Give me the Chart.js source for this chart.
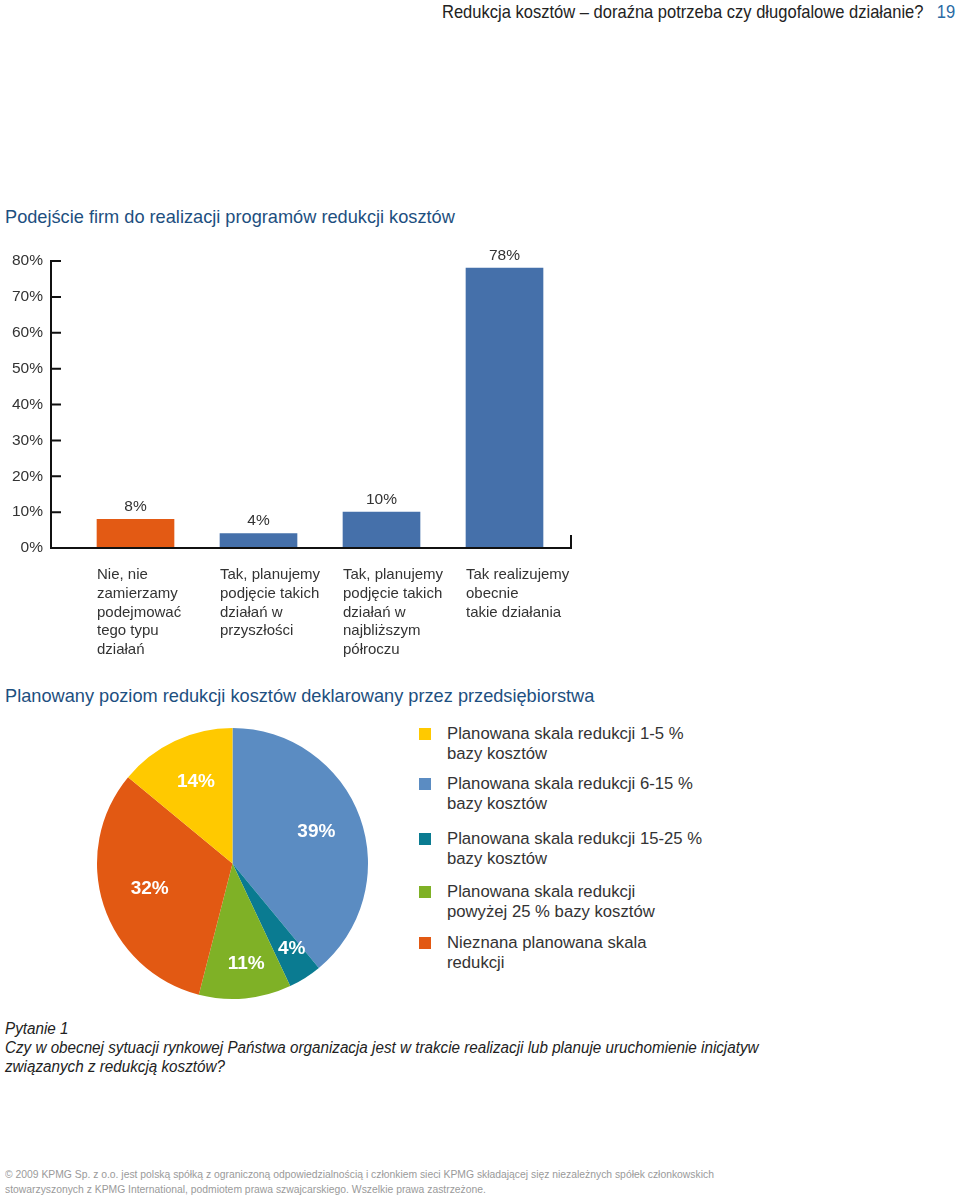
<!DOCTYPE html>
<html><head><meta charset="utf-8">
<script src="https://cdn.jsdelivr.net/npm/chart.js@4"></script>
<style>
html,body{margin:0;padding:0;background:#fff;}
body{width:960px;height:1197px;position:relative;overflow:hidden;font-family:"Liberation Sans",Arial,sans-serif;color:#333;}
.abs{position:absolute;white-space:nowrap;}
#hdr{right:37px;top:1px;font-size:19px;color:#222;transform:scaleX(0.87);transform-origin:right top;}
#pg{right:5px;top:1px;font-size:19px;color:#2a6aa4;transform:scaleX(0.87);transform-origin:right top;}
.ttl{left:5px;font-size:18.2px;color:#1d4f80;}
#barWrap{position:absolute;left:0;top:230px;width:600px;height:438px;}
#pieWrap{position:absolute;left:92px;top:723px;width:281px;height:281px;}
#legend{position:absolute;left:419px;top:724px;font-size:16.7px;color:#333;line-height:20px;}
.li{position:relative;padding-left:28px;white-space:nowrap;}
.sw{position:absolute;left:0;top:4px;width:12px;height:12px;}
#q{left:5px;top:1019px;font-style:italic;font-size:16px;line-height:19px;color:#222;transform:scaleX(0.951);transform-origin:left top;}
#foot{left:5px;top:1167px;font-size:11.5px;line-height:14.5px;color:#9a9a9a;transform:scaleX(0.9);transform-origin:left top;}
</style></head>
<body>
<div class="abs" id="hdr">Redukcja kosztów – doraźna potrzeba czy długofalowe działanie?</div>
<div class="abs" id="pg">19</div>
<div class="abs ttl" style="top:207px">Podejście firm do realizacji programów redukcji kosztów</div>
<div id="barWrap"><canvas id="bar"></canvas></div>
<div class="abs ttl" style="top:686px">Planowany poziom redukcji kosztów deklarowany przez przedsiębiorstwa</div>
<div id="pieWrap"><canvas id="pie"></canvas></div>
<div id="legend"></div>
<div class="abs" id="q">Pytanie 1<br>Czy w obecnej sytuacji rynkowej Państwa organizacja jest w trakcie realizacji lub planuje uruchomienie inicjatyw<br>związanych z redukcją kosztów?</div>
<div class="abs" id="foot">© 2009 KPMG Sp. z o.o. jest polską spółką z ograniczoną odpowiedzialnością i członkiem sieci KPMG składającej sięz niezależnych spółek członkowskich<br>stowarzyszonych z KPMG International, podmiotem prawa szwajcarskiego.  Wszelkie prawa zastrzeżone.</div>
<script>
// ---- data ----
const barCategories = [
  ["Nie, nie","zamierzamy","podejmować","tego typu","działań"],
  ["Tak, planujemy","podjęcie takich","działań w","przyszłości"],
  ["Tak, planujemy","podjęcie takich","działań w","najbliższym","półroczu"],
  ["Tak realizujemy","obecnie","takie działania"]
];
const barValues = [8, 4, 10, 78];
const barColors = ["#e35a14", "#4570aa", "#4570aa", "#4570aa"];
const yTicks = [0, 10, 20, 30, 40, 50, 60, 70, 80];

const pieLabels = [
  "Planowana skala redukcji 6-15 % bazy kosztów",
  "Planowana skala redukcji 15-25 % bazy kosztów",
  "Planowana skala redukcji powyżej 25 % bazy kosztów",
  "Nieznana planowana skala redukcji",
  "Planowana skala redukcji 1-5 % bazy kosztów"
];
const pieValues = [39, 4, 11, 32, 14];
const pieColors = ["#5b8cc2", "#0a7b91", "#7fb126", "#e25913", "#ffc900"];
const legendOrder = [4, 0, 1, 2, 3];
const legendLines = [
  ["Planowana skala redukcji 1-5 %","bazy kosztów"],
  ["Planowana skala redukcji 6-15 %","bazy kosztów"],
  ["Planowana skala redukcji 15-25 %","bazy kosztów"],
  ["Planowana skala redukcji","powyżej 25 % bazy kosztów"],
  ["Nieznana planowana skala","redukcji"]
];
const legendGaps = [0, 10, 15, 13, 11];

// ---- bar chart ----
const axisPlugin = {
  id: 'axisPlugin',
  afterDraw(chart) {
    const ctx = chart.ctx, y = chart.scales.y, ca = chart.chartArea;
    const ax = ca.left - 23, rx = ca.right + 5;
    const y0 = y.getPixelForValue(0), yTop = y.getPixelForValue(yTicks[yTicks.length-1]);
    ctx.save();
    ctx.strokeStyle = '#111'; ctx.lineWidth = 2;
    ctx.beginPath();
    ctx.moveTo(ax, yTop - 1); ctx.lineTo(ax, y0 + 1);
    ctx.moveTo(ax - 1, y0); ctx.lineTo(rx, y0); ctx.lineTo(rx, y0 - 13);
    yTicks.forEach(v => { const p = y.getPixelForValue(v); ctx.moveTo(ax, p); ctx.lineTo(ax + 10, p); });
    ctx.stroke();
    const meta = chart.getDatasetMeta(0);
    ctx.font = '15.5px "Liberation Sans", Arial, sans-serif';
    ctx.fillStyle = '#333'; ctx.textAlign = 'center'; ctx.textBaseline = 'bottom';
    meta.data.forEach((b, i) => { ctx.fillText(barValues[i] + '%', b.x, b.y - 5); });
    ctx.restore();
  }
};
new Chart(document.getElementById('bar'), {
  type: 'bar',
  data: { labels: barCategories, datasets: [{ data: barValues, backgroundColor: barColors, borderWidth: 0, barThickness: 77 }] },
  options: {
    responsive: true, maintainAspectRatio: false, animation: false,
    layout: { padding: { left: 8, right: 34, top: 31, bottom: 0 } },
    plugins: { legend: { display: false }, tooltip: { enabled: false } },
    scales: {
      x: {
        grid: { display: false, drawTicks: false }, border: { display: false },
        ticks: { align: 'start', labelOffset: -38.5, padding: 18, color: '#333',
                 font: { family: '"Liberation Sans", Arial, sans-serif', size: 15, lineHeight: 1.24 }, maxRotation: 0, autoSkip: false },
        afterFit(s) { s.height = 120; s.paddingLeft = 0; s.paddingRight = 0; }
      },
      y: {
        min: 0, max: 80,
        grid: { display: false, drawTicks: false }, border: { display: false },
        ticks: { stepSize: 10, padding: 31, color: '#333', callback: v => v + '%',
                 font: { family: '"Liberation Sans", Arial, sans-serif', size: 15.5 } },
        afterFit(s) { s.width = 66; s.paddingTop = 0; s.paddingBottom = 0; }
      }
    }
  },
  plugins: [axisPlugin]
});

// ---- pie chart ----
const pieLabelPlugin = {
  id: 'pieLabelPlugin',
  afterDraw(chart) {
    const ctx = chart.ctx, meta = chart.getDatasetMeta(0);
    ctx.save();
    ctx.font = 'bold 19px "Liberation Sans", Arial, sans-serif';
    ctx.fillStyle = '#fff'; ctx.textAlign = 'center'; ctx.textBaseline = 'middle';
    meta.data.forEach((arc, i) => {
      const p = arc.getProps(['x','y','startAngle','endAngle','outerRadius'], true);
      const a = (p.startAngle + p.endAngle) / 2;
      const f = pieValues[i] < 12 ? 0.76 : 0.65;
      ctx.fillText(pieValues[i] + '%', p.x + Math.cos(a) * p.outerRadius * f + (pieValues[i] < 12 ? 4 : 1), p.y + Math.sin(a) * p.outerRadius * f - 2);
    });
    ctx.restore();
  }
};
new Chart(document.getElementById('pie'), {
  type: 'pie',
  data: { labels: pieLabels, datasets: [{ data: pieValues, backgroundColor: pieColors, borderWidth: 0 }] },
  options: {
    responsive: true, maintainAspectRatio: false, animation: false,
    layout: { padding: 5 },
    plugins: { legend: { display: false }, tooltip: { enabled: false } }
  },
  plugins: [pieLabelPlugin]
});

// ---- legend ----
const lg = document.getElementById('legend');
legendOrder.forEach((idx, k) => {
  const d = document.createElement('div');
  d.className = 'li';
  d.style.marginTop = legendGaps[k] + 'px';
  d.innerHTML = '<span class="sw" style="background:' + pieColors[idx] + '"></span>' + legendLines[k].join('<br>');
  lg.appendChild(d);
});
</script>
</body></html>
